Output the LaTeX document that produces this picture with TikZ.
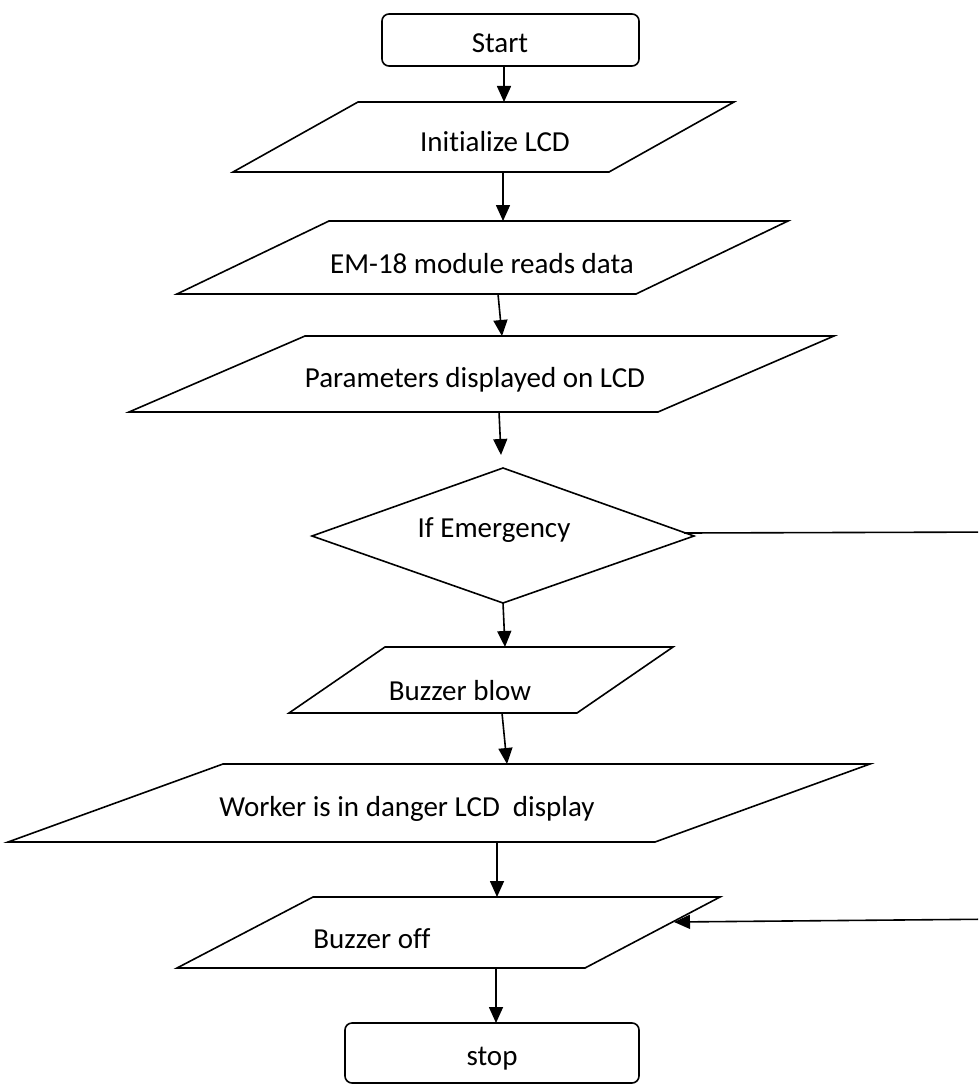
\documentclass[tikz,border=0pt]{standalone}
\usepackage{fontspec}
\setmainfont{Carlito}[Ligatures={NoCommon}]
\usetikzlibrary{arrows.meta}
\begin{document}
\begin{tikzpicture}[x=1pt,y=-1pt,line width=1.6pt,
  lbl/.style={font=\fontsize{29}{34}\selectfont,anchor=base,inner sep=0pt},
  arr/.style={-{Triangle[length=16pt,width=14pt]}},
  shp/.style={draw,line join=miter},
  term/.style={draw,rounded corners=7pt}]
\fill[white] (0,0) rectangle (978,1086);
\clip (0,0) rectangle (978,1086);
% Start
\draw[term] (382,14) rectangle (639,66);
\node[lbl] (start) at (500,53) {Start};
\coordinate (startB) at (504,66);
% Initialize LCD
\draw[shp] (358,102) -- (734,102) -- (609,172) -- (233,172) -- cycle;
\node[lbl] (init) at (495,152) {Initialize LCD};
\coordinate (initT) at (504,102);
\coordinate (initB) at (503,172);
% EM-18
\draw[shp] (329,221) -- (788,221) -- (636,294) -- (177,294) -- cycle;
\node[lbl] (em) at (482,273) {EM-18 module reads data};
\coordinate (emT) at (503,221);
\coordinate (emB) at (498,294);
% Parameters
\draw[shp] (305,336) -- (834,336) -- (658,412) -- (129,412) -- cycle;
\node[lbl] (par) at (475,387) {Parameters displayed on LCD};
\coordinate (parT) at (502,336);
\coordinate (parB) at (499,412);
% Decision
\draw[shp] (503,468) -- (694,536) -- (503,603) -- (312,536) -- cycle;
\node[lbl] (dec) at (494,537) {If Emergency};
\coordinate (decT) at (501,455);
\coordinate (decR) at (684,533);
\coordinate (decB) at (503,603);
% Buzzer blow
\draw[shp] (385,647) -- (673,647) -- (577,713) -- (289,713) -- cycle;
\node[lbl] (bb) at (460,700) {Buzzer blow};
\coordinate (bbT) at (505,647);
\coordinate (bbB) at (502,713);
% Worker
\draw[shp] (223,764) -- (870,764) -- (655,842) -- (8,842) -- cycle;
\node[lbl] (wk) at (407,816) {Worker is in danger LCD\ \ display};
\coordinate (wkT) at (507,764);
\coordinate (wkB) at (497,842);
% Buzzer off
\draw[shp] (313,897) -- (720,897) -- (585,968) -- (177,968) -- cycle;
\node[lbl] (bo) at (372,948) {Buzzer off};
\coordinate (boT) at (497,897);
\coordinate (boR) at (674,922);
\coordinate (boB) at (496,968);
% stop
\draw[term] (345,1023) rectangle (639,1083);
\node[lbl] (stop) at (492,1065) {stop};
\coordinate (stopT) at (496,1023);
% loop-back corners (outside the page)
\coordinate (loopA) at (1010,532);
\coordinate (loopB) at (1010,919);
% connectors
\draw[arr] (startB) -- (initT);
\draw[arr] (initB) -- (emT);
\draw[arr] (emB) -- (parT);
\draw[arr] (parB) -- (decT);
\draw[arr] (decB) -- (bbT);
\draw[arr] (bbB) -- (wkT);
\draw[arr] (wkB) -- (boT);
\draw[arr] (boB) -- (stopT);
\draw[arr] (decR) -- (loopA) -- (loopB) -- (boR);
\end{tikzpicture}
\end{document}
